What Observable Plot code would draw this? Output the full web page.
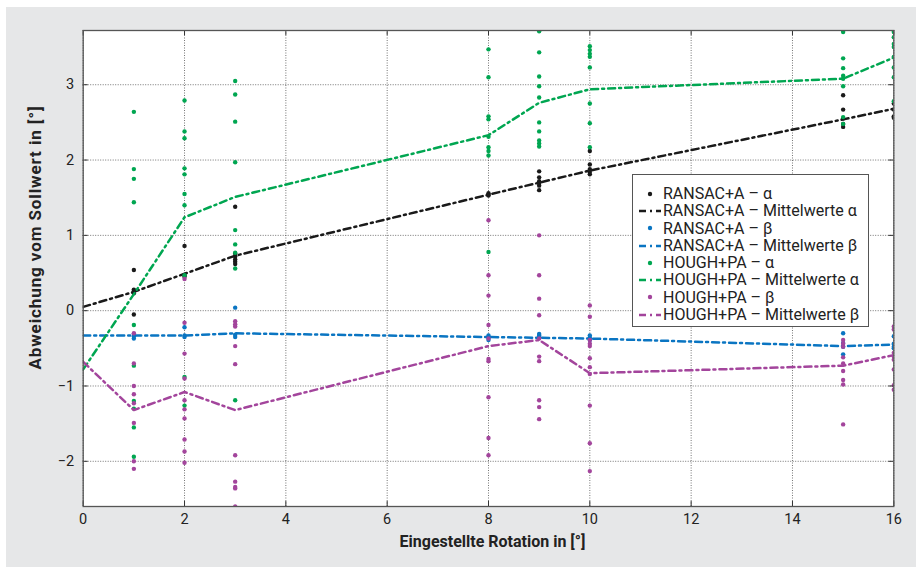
<!DOCTYPE html>
<html><head><meta charset="utf-8">
<script src="https://cdn.jsdelivr.net/npm/d3@7"></script>
<script src="https://cdn.jsdelivr.net/npm/@observablehq/plot@0.6"></script>
<style>
html,body{margin:0;padding:0;background:#fff;}
#wrap{position:relative;width:916px;height:567px;overflow:hidden;font-family:Roboto,"Open Sans",sans-serif;}
#bg{position:absolute;left:6px;top:7px;width:910px;height:560px;background:#e6e7e8;}
#chart{position:absolute;left:0;top:0;}
#legend{position:absolute;left:632px;top:174px;width:237px;height:153px;box-sizing:border-box;background:#fff;border:1.3px solid #555;padding-top:10px;}
.row{height:17.3px;line-height:17.3px;font-size:16px;color:#222;white-space:nowrap;display:flex;align-items:center;}
.row svg{flex:none;margin-left:6px;margin-right:2px;}
</style></head>
<body>
<div id="wrap"><div id="bg"></div><div id="chart"></div><div id="legend"></div></div>
<script>
// ---- data ----
const rotationsMean = [0, 1, 2, 3, 8, 9, 10, 15, 16];
const rotationsMeasured = [1, 2, 3, 8, 9, 10, 15, 16];

const meanRansacAlpha = [0.05, 0.25, 0.49, 0.73, 1.54, 1.70, 1.86, 2.54, 2.68];
const meanRansacBeta  = [-0.33, -0.33, -0.33, -0.30, -0.35, -0.36, -0.37, -0.47, -0.45];
const meanHoughAlpha  = [-0.78, 0.22, 1.24, 1.51, 2.33, 2.76, 2.94, 3.08, 3.36];
const meanHoughBeta   = [-0.68, -1.32, -1.08, -1.32, -0.47, -0.39, -0.83, -0.73, -0.59];

const ptsRansacAlpha = [
  [0.54, 0.28, 0.26, 0.25, 0.23, -0.05],
  [0.86, 0.47, 0.45],
  [1.38, 0.76, 0.72, 0.68, 0.65, 0.62],
  [1.56, 1.54, 1.53],
  [1.85, 1.77, 1.72, 1.69, 1.66, 1.60],
  [2.12, 1.94, 1.88, 1.84, 1.81],
  [2.86, 2.67, 2.55, 2.48, 2.44],
  [2.75, 2.67, 2.58, 2.56]
];
const ptsRansacBeta = [
  [-0.31, -0.34, -0.37],
  [-0.22, -0.33, -0.35],
  [0.04, -0.32, -0.35],
  [-0.33, -0.36, -0.39],
  [-0.31, -0.33, -0.35],
  [-0.33, -0.36, -0.39],
  [-0.30, -0.43, -0.48, -0.58],
  [-0.34, -0.44, -0.48, -0.50]
];
const ptsHoughAlpha = [
  [2.64, 1.88, 1.75, 1.44, -0.19, -0.73, -1.20, -1.30, -1.55, -1.94],
  [2.79, 2.38, 2.29, 1.89, 1.81, 1.55, 1.40, 0.47, -0.88, -1.26],
  [3.05, 2.87, 2.51, 1.97, 1.07, 0.88, 0.77, 0.56, -1.19],
  [3.47, 3.10, 2.58, 2.54, 2.31, 2.17, 2.12, 2.06, 0.78],
  [3.71, 3.43, 3.11, 2.98, 2.83, 2.50, 2.38, 2.26, 2.22, 2.18],
  [3.51, 3.46, 3.41, 3.37, 3.23, 2.75, 2.49, 2.17],
  [3.70, 3.35, 3.22, 3.12, 3.08, 2.98, 2.57, 2.48],
  [3.70, 3.63, 3.54, 3.50, 3.37, 3.23, 3.10, 2.78]
];
const ptsHoughBeta = [
  [-0.30, -0.70, -1.00, -1.11, -1.23, -1.49, -2.00, -2.10],
  [0.42, -0.16, -0.57, -0.90, -1.19, -1.31, -1.43, -1.71, -1.87, -2.02],
  [-0.14, -0.18, -0.21, -0.47, -0.71, -1.92, -2.27, -2.34, -2.36, -2.60],
  [1.20, 0.47, 0.20, -0.19, -0.37, -0.64, -0.67, -1.15, -1.69, -1.92],
  [1.00, 0.47, 0.16, -0.06, -0.37, -0.61, -0.67, -1.19, -1.28, -1.44],
  [0.07, -0.08, -0.39, -0.44, -0.47, -0.63, -0.75, -0.84, -1.26, -1.76, -2.13],
  [-0.39, -0.44, -0.48, -0.62, -0.70, -0.80, -0.92, -0.98, -1.51],
  [-0.21, -0.25, -0.56, -0.61, -0.65, -0.78, -0.99, -1.05]
];

const seriesLabels = ["RANSAC+A – α", "RANSAC+A – β", "HOUGH+PA – α", "HOUGH+PA – β"];
const meanLabels = ["RANSAC+A – Mittelwerte α", "RANSAC+A – Mittelwerte β", "HOUGH+PA – Mittelwerte α", "HOUGH+PA – Mittelwerte β"];
const seriesColors = ["#1a1a1a", "#0a75c2", "#00a651", "#a3459c"];

const xTicks = [0, 2, 4, 6, 8, 10, 12, 14, 16];
const yTicks = [-2, -1, 0, 1, 2, 3];
const xDomain = [0, 16];
const yDomain = [-2.6, 3.72];
const xTitle = "Eingestellte Rotation in [°]";
const yTitle = "Abweichung vom Sollwert in [°]";

// ---- build tables ----
const allPts = [ptsRansacAlpha, ptsRansacBeta, ptsHoughAlpha, ptsHoughBeta];
const allMeans = [meanRansacAlpha, meanRansacBeta, meanHoughAlpha, meanHoughBeta];

const W = 916, H = 567;
const mL = 82.7, mR = W - 893.3, mT = 30, mB = H - 506;
const plotH = H - mT - mB, plotW = W - mL - mR;

const dash = "7,4,2,4";
const marks = [Plot.frame({fill: "white"})];
marks.push(Plot.gridX(xTicks, {stroke: "#333", strokeOpacity: 0.85, strokeWidth: 0.8, strokeDasharray: "1,1.5"}));
marks.push(Plot.gridY(yTicks, {stroke: "#333", strokeOpacity: 0.85, strokeWidth: 0.8, strokeDasharray: "1,1.5"}));

allPts.forEach((pts, si) => {
  const rows = [];
  pts.forEach((vals, i) => vals.forEach(v => rows.push({x: rotationsMeasured[i], y: v})));
  const meanRows = rotationsMean.map((r, i) => ({x: r, y: allMeans[si][i]}));
  marks.push(Plot.dot(rows, {x: "x", y: "y", r: 2.2, fill: seriesColors[si], stroke: "none", clip: true}));
  marks.push(Plot.line(meanRows, {x: "x", y: "y", stroke: seriesColors[si], strokeWidth: 2.5, strokeDasharray: dash, clip: true}));
});

// inward ticks on all four sides
const tl = 5;
marks.push(Plot.tickX(xTicks, {x: d => d, insetTop: plotH - tl, stroke: "#333"}));
marks.push(Plot.tickX(xTicks, {x: d => d, insetBottom: plotH - tl, stroke: "#333"}));
marks.push(Plot.tickY(yTicks, {y: d => d, insetRight: plotW - tl, stroke: "#333"}));
marks.push(Plot.tickY(yTicks, {y: d => d, insetLeft: plotW - tl, stroke: "#333"}));
marks.push(Plot.frame({stroke: "#555", strokeWidth: 1.3}));

const intFmt = d3.format("d");
marks.push(Plot.axisX(xTicks, {tickSize: 0, tickPadding: 7, fontSize: 14.5, fill: "#222", label: null, tickFormat: intFmt}));
marks.push(Plot.axisY(yTicks, {tickSize: 0, tickPadding: 9, fontSize: 14.5, fill: "#222", label: null, tickFormat: intFmt}));
marks.push(Plot.text([xTitle], {text: d => d, frameAnchor: "bottom", dy: 40, dx: 4, fontSize: 16, fontWeight: "bold", fill: "#222", textAnchor: "middle"}));
marks.push(Plot.text([yTitle], {text: d => d, frameAnchor: "left", rotate: -90, dx: -48, dy: -31, fontSize: 17, fontWeight: "bold", fill: "#222", textAnchor: "middle", className: "ytitle"}));

const chart = Plot.plot({
  width: W, height: H,
  marginLeft: mL, marginRight: mR, marginTop: mT, marginBottom: mB,
  x: {domain: xDomain},
  y: {domain: yDomain},
  style: {background: "transparent", fontFamily: "Roboto, 'Open Sans', sans-serif", fontSize: "14.5px"},
  marks
});
d3.select(chart).selectAll(".ytitle text").style("letter-spacing", "0.9px");
document.getElementById("chart").appendChild(chart);

// ---- legend ----
const legend = document.getElementById("legend");
for (let si = 0; si < 4; si++) {
  [[seriesLabels[si], "dot"], [meanLabels[si], "line"]].forEach(([label, type]) => {
    const row = document.createElement("div");
    row.className = "row";
    const ns = "http://www.w3.org/2000/svg";
    const svg = document.createElementNS(ns, "svg");
    svg.setAttribute("width", 22); svg.setAttribute("height", 10);
    if (type === "dot") {
      const c = document.createElementNS(ns, "circle");
      c.setAttribute("cx", 11); c.setAttribute("cy", 5); c.setAttribute("r", 2.2);
      c.setAttribute("fill", seriesColors[si]);
      svg.appendChild(c);
    } else {
      const l = document.createElementNS(ns, "line");
      l.setAttribute("x1", 0); l.setAttribute("x2", 22); l.setAttribute("y1", 5); l.setAttribute("y2", 5);
      l.setAttribute("stroke", seriesColors[si]); l.setAttribute("stroke-width", 2.5);
      l.setAttribute("stroke-dasharray", dash);
      svg.appendChild(l);
    }
    row.appendChild(svg);
    const span = document.createElement("span");
    span.textContent = label;
    row.appendChild(span);
    legend.appendChild(row);
  });
}
</script>
</body></html>
